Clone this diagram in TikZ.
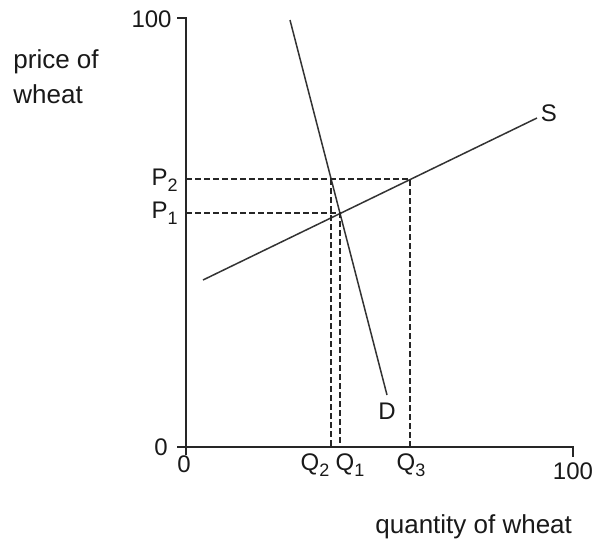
\documentclass[tikz,border=0pt]{standalone}
\usepackage{fontspec}
\setmainfont{Liberation Sans}
\newcommand{\sbs}[1]{\raisebox{-0.25em}{\fontsize{9}{10}\selectfont #1}}
\begin{document}
\begin{tikzpicture}[x=0.5pt,y=-0.5pt,
  axis/.style={line width=0.9pt,draw=black!85},
  curve/.style={line width=0.75pt,draw=black!80},
  guide/.style={line width=0.75pt,draw=black!85,dash pattern=on 3pt off 1.5pt},
  lbl/.style={inner sep=0pt,font=\fontsize{12}{14}\selectfont,text=black!90},
  wlbl/.style={inner sep=0pt,font=\fontsize{13}{15}\selectfont,text=black!90}]
\useasboundingbox (0,0) rectangle (596,541);
% axes
\coordinate (O) at (186,447);
\coordinate (Ytop) at (186,18);
\coordinate (Ytick) at (177,18);
\coordinate (Xend) at (573,447);
\coordinate (Xtick) at (573,457);
\coordinate (Otl) at (177,447);
\coordinate (Otb) at (186,455);
\draw[axis] (Ytick) -- (Ytop) -- (O) -- (Xend) -- (Xtick);
\draw[axis] (Otl) -- (O) -- (Otb);
% curves
\coordinate (S0) at (203,280);
\coordinate (S1) at (537,118);
\coordinate (D0) at (290,20);
\coordinate (D1) at (387,395);
\draw[curve] (S0) -- (S1);
\draw[curve] (D0) -- (D1);
% equilibria
\coordinate (E1) at (340,213);
\coordinate (E2) at (331,179);
\coordinate (E3) at (410,179);
\coordinate (P1a) at (186,213);
\coordinate (P2a) at (186,179);
\coordinate (Q1b) at (340,447);
\coordinate (Q2b) at (331,447);
\coordinate (Q3b) at (410,447);
\draw[guide] (P1a) -- (E1) -- (Q1b);
\draw[guide] (P2a) -- (E3) -- (Q3b);
\draw[guide] (E2) -- (Q2b);
% labels
\node[lbl,anchor=east] (l100y) at (172,19) {100};
\node[lbl,anchor=east] (l0y) at (168,447) {0};
\node[lbl] (l0x) at (184,464) {0};
\node[lbl] (l100x) at (573,471) {100};
\node[wlbl,anchor=base west] (py1) at (13,68) {price of};
\node[wlbl,anchor=base west] (py2) at (13,103) {wheat};
\node[wlbl,anchor=base west] (qx) at (375,533) {quantity of wheat};
\node[lbl,anchor=east] (lP2) at (178,180) {P\sbs{2}};
\node[lbl,anchor=east] (lP1) at (178,213) {P\sbs{1}};
\node[lbl] (lQ2) at (315,465) {Q\sbs{2}};
\node[lbl] (lQ1) at (350,465) {Q\sbs{1}};
\node[lbl] (lQ3) at (411,465) {Q\sbs{3}};
\node[lbl] (lD) at (387,411) {D};
\node[lbl] (lS) at (549,113) {S};
\end{tikzpicture}
\end{document}
